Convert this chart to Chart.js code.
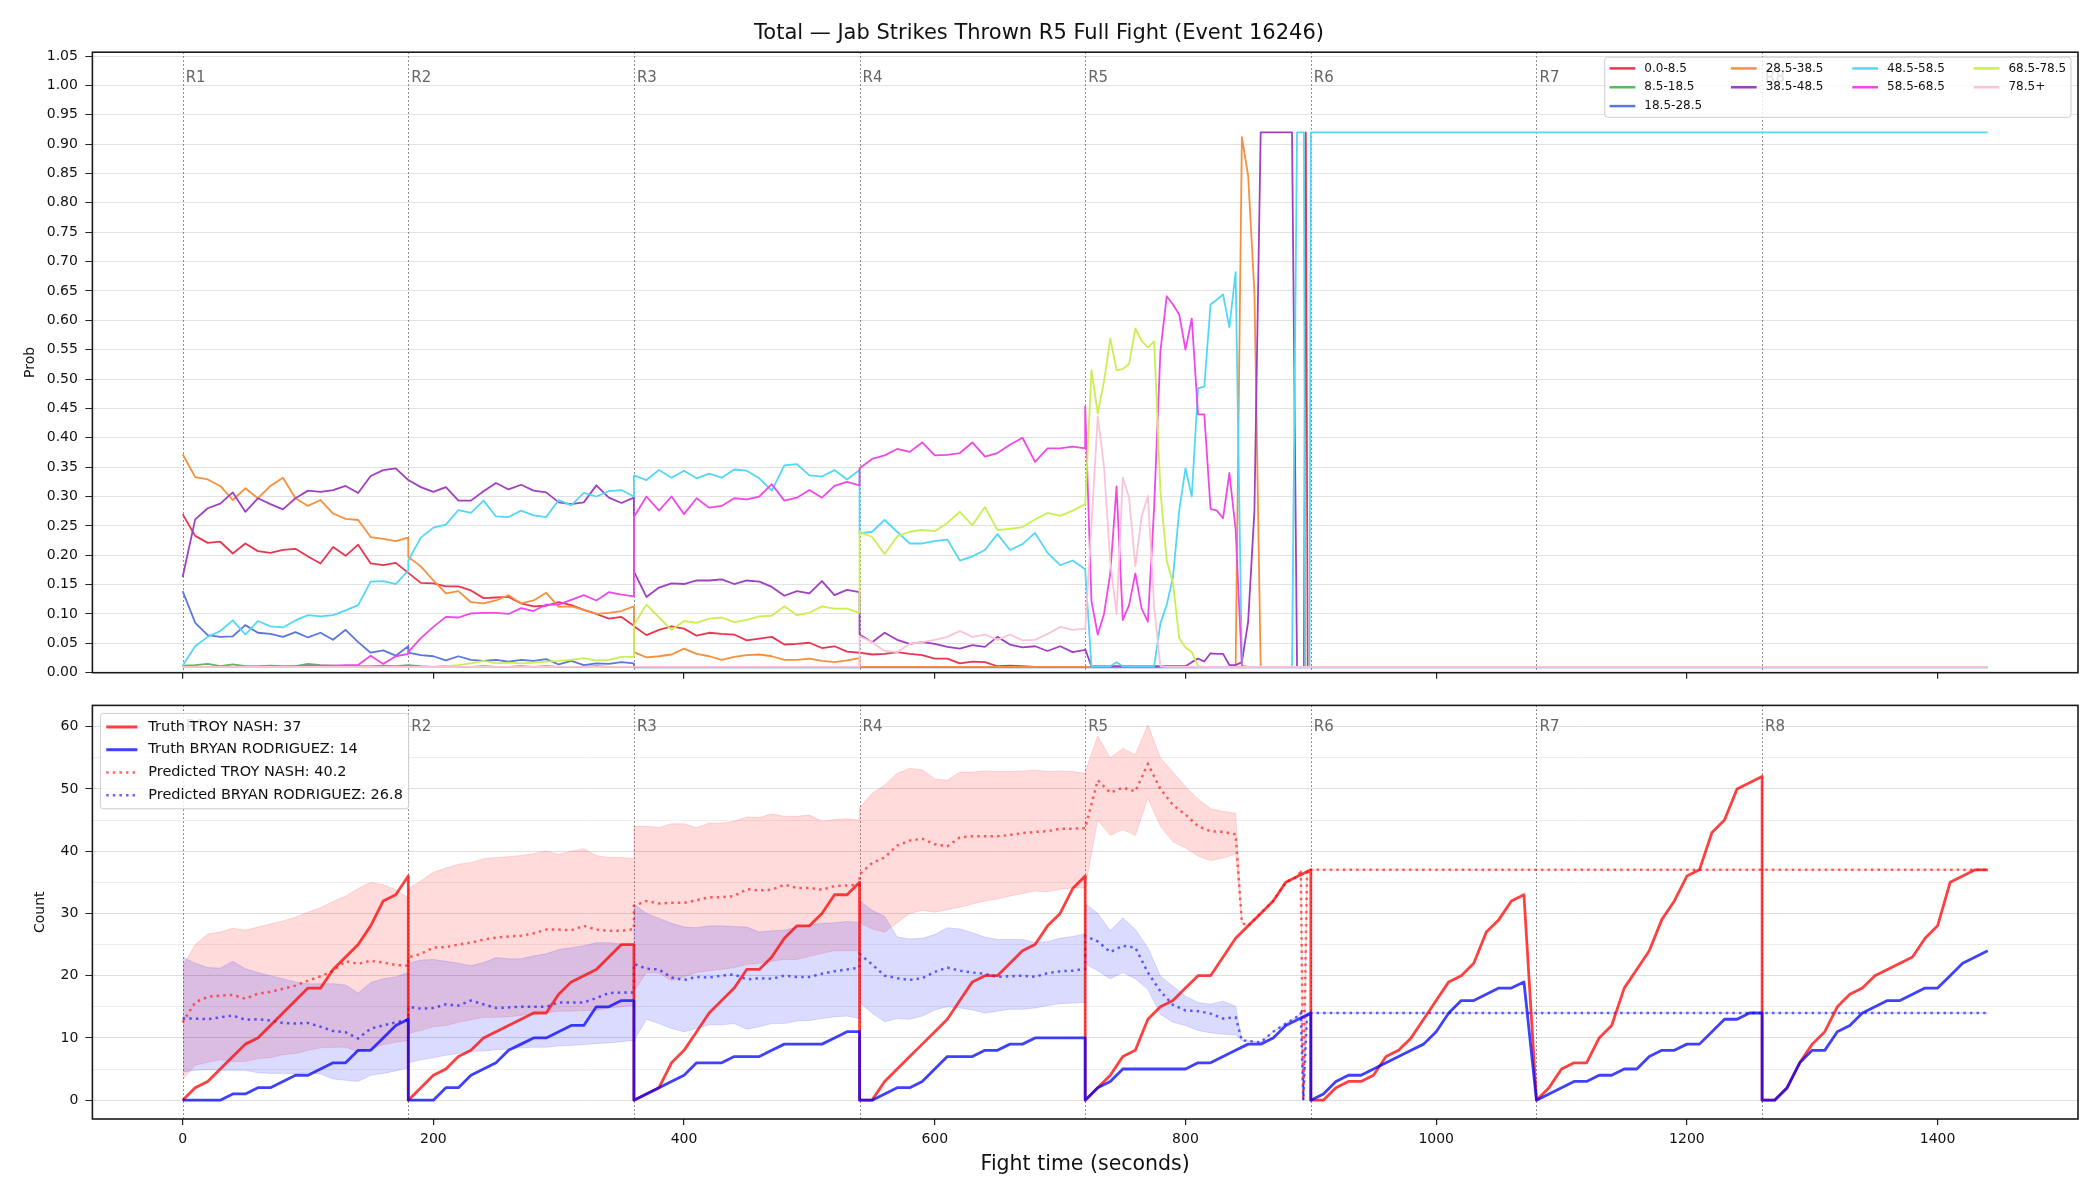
<!DOCTYPE html>
<html>
<head>
<meta charset="utf-8">
<title>Jab Strikes Thrown R5 Full Fight</title>
<script src="https://cdn.jsdelivr.net/npm/chart.js@4.4.1/dist/chart.umd.min.js"></script>
<style>
  html, body { margin: 0; padding: 0; background: #fff; }
  #wrap { position: relative; width: 2100px; height: 1200px; }
  #probChart { position: absolute; left: 0; top: 0; }
  #countChart { position: absolute; left: 0; top: 690px; }
</style>
</head>
<body>
<div id="wrap">
  <canvas id="probChart" width="2100" height="690"></canvas>
  <canvas id="countChart" width="2100" height="510"></canvas>
</div>
<script>
/* ---- data ---------------------------------------------------------- */
const TITLE = "Total \u2014 Jab Strikes Thrown R5 Full Fight (Event 16246)";
const ROUND_STARTS = [0, 180, 360, 540, 720, 900, 1080, 1260];
const ROUND_LABELS = ["R1", "R2", "R3", "R4", "R5", "R6", "R7", "R8"];
const STEP = 10;      // seconds between samples inside a round
const R5_STEP = 5;    // round 5 of the probability panel is sampled finer
const X_TICKS = [0, 200, 400, 600, 800, 1000, 1200, 1400];
const PROB_TICKS = [0, 0.05, 0.1, 0.15, 0.2, 0.25, 0.3, 0.35, 0.4, 0.45, 0.5, 0.55,
                    0.6, 0.65, 0.7, 0.75, 0.8, 0.85, 0.9, 0.95, 1.0, 1.05];
const COUNT_TICKS = [0, 5, 10, 15, 20, 25, 30, 35, 40, 45, 50, 55, 60];

const BUCKETS = ["0.0-8.5", "8.5-18.5", "18.5-28.5", "28.5-38.5", "38.5-48.5",
                 "48.5-58.5", "58.5-68.5", "68.5-78.5", "78.5+"];
const BUCKET_COLORS = ["#e8364f", "#5cba5c", "#5a77dc", "#f6903e", "#a040c0",
                       "#52d8f6", "#f048e8", "#c8f050", "#fac3d6"];

/* probability per bucket: rounds 1-4 every 10 s, round 5 every 5 s, then tail points */
const P0 = [
  [.270,.233,.221,.223,.203,.220,.207,.204,.209,.211,.198,.186,.214,.199,.218,.186,.183,.187,.170],
  [.170,.153,.152,.147,.147,.140,.127,.128,.129,.118,.113,.114,.120,.115,.107,.100,.092,.095,.080],
  [.079,.064,.073,.079,.075,.063,.068,.066,.065,.055,.058,.061,.048,.049,.051,.042,.045,.036,.034],
  [.034,.031,.032,.035,.032,.030,.024,.024,.016,.019,.018,.011,.012,.011,.010,.010,.010,.010,.010],
  [.010,.010,.010,.010,.010,.010,.010,.010,.010,.010,.010,.010,.010,.010,.010,.010,.010,.010,.010,.010,.010,.010,.010,.010,.010,.010,.010,.010,.010,.010,.010,.010,.010]
];
const P0_TAIL = [[885, .01], [894.5, .01], [896, .92], [897.5, .01], [1440, .01]];

const P1 = [
  [.012,.013,.015,.011,.014,.011,.011,.012,.011,.011,.015,.013,.012,.011,.011,.011,.012,.011,.013],
  [.013,.011,.010,.011,.010,.010,.011,.010,.010,.011,.010,.011,.010,.010,.010,.011,.010,.010,.010],
  [.010,.010,.010,.010,.010,.010,.010,.010,.010,.010,.010,.010,.010,.010,.010,.010,.010,.010,.010],
  [.010,.010,.010,.010,.010,.010,.010,.010,.010,.010,.010,.010,.010,.010,.010,.010,.010,.010,.010],
  [.010,.010,.010,.010,.010,.010,.010,.010,.010,.010,.010,.010,.010,.010,.010,.010,.010,.010,.010,.010,.010,.010,.010,.010,.010,.010,.010,.010,.010,.010,.010,.010,.010]
];
const P1_TAIL = [[885, .01], [1440, .01]];

const P2 = [
  [.139,.085,.064,.061,.062,.081,.068,.066,.061,.069,.060,.068,.056,.073,.052,.034,.038,.029,.045],
  [.034,.030,.028,.021,.028,.022,.020,.022,.019,.022,.020,.023,.014,.020,.013,.016,.015,.018,.016],
  [.009,.009,.009,.009,.009,.009,.009,.009,.009,.009,.009,.009,.009,.009,.009,.009,.009,.009,.009],
  [.009,.009,.009,.009,.009,.009,.009,.009,.009,.009,.009,.009,.009,.009,.009,.009,.009,.009,.009],
  [.009,.009,.009,.009,.009,.009,.009,.009,.009,.009,.009,.009,.009,.009,.009,.009,.009,.009,.009,.009,.009,.009,.009,.009,.009,.009,.009,.009,.009,.009,.009,.009,.009]
];
const P2_TAIL = [[885, .009], [1440, .009]];

const P3 = [
  [.372,.333,.329,.318,.294,.314,.297,.318,.332,.297,.284,.294,.271,.262,.260,.231,.228,.224,.230],
  [.197,.181,.157,.135,.139,.120,.118,.123,.132,.118,.123,.136,.112,.113,.107,.100,.102,.105,.113],
  [.035,.026,.028,.031,.041,.032,.028,.022,.027,.030,.031,.028,.022,.022,.024,.020,.018,.021,.025],
  [.010,.010,.010,.010,.010,.010,.010,.010,.010,.010,.010,.010,.010,.010,.010,.010,.010,.010,.010],
  [.010,.010,.010,.010,.010,.010,.010,.010,.010,.010,.010,.010,.010,.010,.010,.010,.010,.010,.010,.010,.010,.010,.010,.010,.010,.912,.846,.647,.010,.010,.010,.010,.010]
];
const P3_TAIL = [[885, .01], [1440, .01]];

const P4 = [
  [.163,.261,.280,.288,.307,.274,.297,.287,.278,.297,.310,.308,.311,.318,.306,.335,.345,.348,.328],
  [.328,.316,.308,.316,.293,.293,.309,.323,.312,.320,.310,.307,.290,.287,.290,.319,.298,.289,.298],
  [.172,.129,.145,.152,.151,.157,.157,.159,.151,.157,.155,.146,.131,.139,.135,.156,.132,.141,.137],
  [.065,.052,.068,.056,.049,.052,.049,.044,.041,.047,.044,.061,.048,.043,.045,.037,.045,.035,.039],
  [.040,.011,.011,.011,.011,.011,.011,.011,.011,.011,.011,.011,.011,.011,.011,.011,.011,.018,.024,.019,.033,.032,.032,.013,.013,.018,.087,.276,.920,.920,.920,.920,.920]
];
const P4_TAIL = [[885, .92], [889, .01], [1440, .01]];

const P5 = [
  [.012,.045,.061,.071,.089,.065,.088,.079,.077,.089,.098,.096,.098,.106,.115,.155,.156,.151,.174],
  [.191,.230,.247,.252,.277,.272,.293,.266,.265,.276,.268,.265,.294,.285,.306,.300,.309,.311,.300],
  [.336,.328,.345,.332,.344,.331,.339,.332,.346,.344,.331,.310,.353,.355,.336,.334,.345,.329,.345],
  [.237,.240,.260,.240,.220,.220,.224,.227,.191,.198,.209,.236,.209,.219,.238,.204,.183,.191,.176],
  [.176,.011,.011,.011,.011,.018,.011,.011,.011,.011,.011,.011,.084,.115,.162,.276,.348,.300,.484,.487,.627,.635,.644,.588,.682,.011,.010,.010,.010,.010,.010,.010,.010]
];
const P5_TAIL = [[885, .01], [889, .92], [894.5, .92], [895.5, .01], [899, .01], [900, .92], [1440, .92]];

const P6 = [
  [.010,.010,.010,.010,.010,.010,.010,.010,.010,.011,.012,.012,.012,.013,.013,.029,.015,.028,.032],
  [.035,.059,.078,.095,.094,.101,.102,.102,.100,.110,.105,.116,.116,.124,.132,.123,.137,.133,.130],
  [.265,.300,.276,.300,.270,.297,.281,.284,.297,.295,.300,.321,.293,.298,.311,.298,.318,.325,.319],
  [.348,.364,.370,.381,.376,.392,.370,.371,.374,.392,.368,.374,.388,.400,.359,.382,.382,.385,.382],
  [.453,.122,.065,.100,.169,.317,.090,.115,.169,.109,.087,.282,.547,.641,.627,.610,.550,.603,.440,.440,.279,.276,.263,.340,.244,.011,.010,.010,.010,.010,.010,.010,.010]
];
const P6_TAIL = [[885, .01], [1440, .01]];

const P7 = [
  [.010,.010,.010,.010,.010,.010,.010,.010,.010,.010,.010,.010,.010,.010,.010,.010,.010,.010,.010],
  [.010,.010,.010,.011,.013,.016,.020,.016,.017,.016,.017,.019,.020,.022,.025,.021,.022,.027,.027],
  [.081,.116,.094,.073,.088,.085,.092,.094,.086,.090,.096,.097,.113,.098,.102,.113,.109,.109,.102],
  [.240,.231,.202,.232,.240,.243,.241,.255,.274,.251,.282,.243,.245,.248,.261,.272,.267,.276,.287],
  [.287,.515,.441,.496,.569,.515,.517,.526,.586,.565,.554,.564,.310,.191,.153,.059,.043,.035,.011,.010,.010,.010,.010,.010,.010,.010,.010,.010,.010,.010,.010,.010,.010]
];
const P7_TAIL = [[885, .01], [1440, .01]];

const P8 = [
  [.010,.010,.010,.010,.010,.010,.010,.010,.010,.010,.010,.010,.010,.010,.010,.010,.010,.010,.010],
  [.010,.010,.010,.010,.010,.010,.010,.010,.010,.010,.010,.010,.010,.010,.010,.010,.010,.010,.010],
  [.010,.010,.010,.010,.010,.010,.010,.010,.010,.010,.010,.010,.010,.010,.010,.010,.010,.010,.010],
  [.062,.052,.037,.035,.049,.052,.056,.061,.071,.061,.065,.056,.065,.055,.056,.066,.078,.073,.075],
  [.075,.250,.436,.351,.188,.100,.332,.298,.181,.266,.301,.112,.011,.010,.010,.010,.010,.010,.010,.010,.010,.010,.010,.010,.010,.010,.010,.010,.010,.010,.010,.010,.010]
];
const P8_TAIL = [[885, .01], [1440, .01]];

/* truth counts, one array per round, every 10 s */
const TRUTH_NASH = [
  [0,2,3,5,7,9,10,12,14,16,18,18,21,23,25,28,32,33,36],
  [0,2,4,5,7,8,10,11,12,13,14,14,17,19,20,21,23,25,25],
  [0,1,2,6,8,11,14,16,18,21,21,23,26,28,28,30,33,33,35],
  [0,0,3,5,7,9,11,13,16,19,20,20,22,24,25,28,30,34,36],
  [0,2,4,7,8,13,15,16,18,20,20,23,26,28,30,32,35,36,37],
  [0,0,2,3,3,4,7,8,10,13,16,19,20,22,27,29,32,33,0],
  [0,2,5,6,6,10,12,18,21,24,29,32,36,37,43,45,50,51,52],
  [0,0,2,6,9,11,15,17,18,20,21,22,23,26,28,35,36,37,37]
];
const TRUTH_RODRIGUEZ = [
  [0,0,0,0,1,1,2,2,3,4,4,5,6,6,8,8,10,12,13],
  [0,0,0,2,2,4,5,6,8,9,10,10,11,12,12,15,15,16,16],
  [0,1,2,3,4,6,6,6,7,7,7,8,9,9,9,9,10,11,11],
  [0,0,1,2,2,3,5,7,7,7,8,8,9,9,10,10,10,10,10],
  [0,2,3,5,5,5,5,5,5,6,6,7,8,9,9,10,12,13,14],
  [0,1,3,4,4,5,6,7,8,9,11,14,16,16,17,18,18,19,0],
  [0,1,2,3,3,4,4,5,5,7,8,8,9,9,11,13,13,14,14],
  [0,0,2,6,8,8,11,12,14,15,16,16,17,18,18,20,22,23,24]
];

/* predicted totals and their bands: rounds 1-4 every 10 s, round 5 up to 840 s, then tail */
const PRED_NASH = [
  [12.5,15.7,16.6,16.8,16.9,16.3,17.1,17.4,17.9,18.4,19.2,19.9,20.8,22.3,21.9,22.4,22.1,21.7,21.6],
  [22.9,23.5,24.5,24.6,25.0,25.3,25.8,26.1,26.3,26.4,26.8,27.4,27.4,27.3,28.0,27.4,27.2,27.2,27.5],
  [31.2,32.0,31.6,31.7,31.7,32.1,32.6,32.6,32.8,33.9,33.7,33.8,34.6,34.1,34.1,33.8,34.4,34.5,34.6],
  [36.3,38.1,39.0,40.9,41.7,42.0,41.1,40.8,42.2,42.4,42.4,42.4,42.6,42.9,43.1,43.2,43.6,43.6,43.7],
  [43.7,51.4,49.4,50.2,49.6,54.0,50.0,47.4,45.9,44.0,43.2,43.1,42.7]
];
const PRED_NASH_TAIL = [[845, 28.5], [850, 28], [860, 30], [870, 32], [880, 35], [890, 36], [892, 37], [894, 0], [897, 37], [1440, 37]];
const BAND_NASH_HI = [
  [21.5,25.0,26.7,27.0,27.6,27.3,27.8,28.3,28.8,29.4,30.2,30.9,31.9,32.8,34.0,35.0,34.6,33.8,32.5],
  [34.0,35.2,36.6,37.3,37.9,38.2,38.8,39.0,39.1,39.3,39.6,40.0,39.5,40.0,40.4,39.3,39.0,39.0,38.8],
  [44.0,44.0,43.8,44.4,44.4,43.8,44.5,44.5,44.8,45.5,45.4,46.0,45.6,45.6,45.8,44.8,45.1,45.2,45.0],
  [47.0,49.3,50.6,52.5,53.3,53.1,51.6,51.4,52.7,52.7,52.9,52.8,52.8,52.9,53.0,52.8,52.9,52.8,52.5],
  [52.8,58.5,55.0,56.5,55.5,60.3,55.0,52.7,50.4,48.4,46.8,46.4,46.1]
];
const BAND_NASH_LO = [
  [3.3,5.6,6.1,6.5,6.2,6.2,6.7,6.8,7.3,7.5,8.0,8.4,8.5,8.5,7.8,8.2,8.9,9.3,9.6],
  [10.7,11.2,11.8,12.0,12.5,12.9,13.3,13.3,13.4,13.6,13.9,14.0,14.3,14.3,14.4,14.4,14.8,15.0,15.2],
  [17.5,20.5,20.4,19.2,19.8,20.5,20.8,21.0,21.3,21.8,22.0,22.3,22.6,22.6,23.1,23.6,24.0,24.0,24.0],
  [28.5,27.5,27.0,28.5,30.0,30.5,30.2,30.6,31.0,31.5,32.0,32.3,32.8,33.2,33.6,33.5,33.9,34.1,34.1],
  [34.1,45.0,42.5,43.5,42.5,48.5,44.0,41.5,40.5,39.2,38.5,38.9,39.5]
];

const PRED_RODRIGUEZ = [
  [13.1,13.1,13.0,13.3,13.6,12.9,13.0,12.8,12.4,12.3,12.4,11.8,11.1,10.9,9.9,11.5,12.0,12.5,12.9],
  [15.0,14.7,14.8,15.4,15.2,16.0,15.4,14.8,14.9,15.0,15.0,15.0,15.7,15.7,15.7,16.4,17.2,17.3,17.3],
  [21.9,21.1,21.0,19.7,19.3,19.8,19.7,20.0,20.2,19.4,19.6,19.5,20.0,19.8,19.8,20.3,20.7,21.0,21.3],
  [23.5,21.8,20.0,19.6,19.3,19.6,20.6,21.3,20.8,20.5,20.3,19.8,19.9,20.0,19.8,20.4,20.7,20.8,21.1],
  [26.4,25.5,23.8,24.8,24.5,20.5,17.5,15.3,14.4,14.3,13.9,13.1,13.3]
];
const PRED_RODRIGUEZ_TAIL = [[845, 9.6], [850, 9.5], [860, 9.3], [870, 11], [880, 12.3], [890, 13.5], [892, 14], [894, 0], [897, 14], [1440, 14]];
const BAND_RODRIGUEZ_HI = [
  [23.0,22.0,21.3,21.2,22.3,21.1,20.5,20.0,19.5,19.0,18.7,18.7,18.7,18.5,17.2,18.9,19.5,19.8,20.5],
  [22.0,22.5,22.6,22.3,22.0,21.6,22.1,22.9,22.7,22.7,23.2,23.5,24.2,24.5,24.8,25.3,25.3,25.1,25.1],
  [31.5,30.0,29.2,28.4,27.8,27.7,28.0,28.0,27.9,27.8,27.0,27.2,27.3,27.8,28.1,28.4,28.5,28.7,28.6],
  [32.0,30.5,29.5,26.2,25.9,26.0,26.6,27.7,27.5,26.9,26.2,25.8,25.8,25.8,25.3,25.5,26.0,26.3,26.7],
  [31.6,30.0,27.2,29.3,27.4,24.5,19.9,18.3,16.7,15.7,15.4,15.9,15.1]
];
const BAND_RODRIGUEZ_LO = [
  [4.5,4.8,4.9,4.8,4.8,4.8,4.4,4.3,4.3,4.3,4.4,4.2,3.4,3.2,3.0,4.0,4.3,4.7,5.2],
  [6.0,6.5,6.8,7.2,7.5,7.8,7.9,8.1,8.2,8.4,8.5,8.5,8.7,8.8,8.9,9.1,9.2,9.4,9.6],
  [9.5,13.0,12.3,11.5,11.0,11.5,12.1,12.1,12.3,11.4,11.8,12.3,12.3,12.7,12.8,13.1,13.4,13.5,13.1],
  [15.7,14.0,12.6,13.1,13.0,13.5,14.5,15.0,14.8,14.5,14.0,14.3,14.6,14.6,14.8,15.2,15.5,15.6,15.7],
  [21.9,20.8,19.5,20.5,19.5,17.8,13.8,12.5,12.0,11.2,10.8,10.6,10.5]
];

const COUNT_LEGEND = ["Truth TROY NASH: 37", "Truth BRYAN RODRIGUEZ: 14",
                      "Predicted TROY NASH: 40.2", "Predicted BRYAN RODRIGUEZ: 26.8"];

(function () {
  "use strict";

  var FONT = '"DejaVu Sans", sans-serif';
  Chart.defaults.font.family = FONT;
  Chart.defaults.color = "#111";

  var RED = "rgba(255,0,0,0.75)", BLUE = "rgba(0,0,255,0.75)";
  var RED_DOT = "rgba(255,0,0,0.6)", BLUE_DOT = "rgba(0,0,255,0.6)";
  var RED_FILL = "rgba(255,0,0,0.14)", BLUE_FILL = "rgba(0,0,255,0.14)";
  var DOTS = [2.5, 4.1];

  /* ---- helpers ----------------------------------------------------- */
  var toPoints = function (rounds, tail, r5step) {
    var pts = [];
    rounds.forEach(function (vals, r) {
      var step = (r === 4 && r5step) ? r5step : STEP;
      vals.forEach(function (v, i) { pts.push({ x: ROUND_STARTS[r] + i * step, y: v }); });
    });
    (tail || []).forEach(function (p) { pts.push({ x: p[0], y: p[1] }); });
    return pts;
  };
  var fixedTicks = function (list) {
    return function (scale) { scale.ticks = list.map(function (v) { return { value: v }; }); };
  };

  var drawLegend = function (chart, spec) {
    var ctx = chart.ctx, a = chart.chartArea, f = spec.fontSize;
    var n = spec.items.length, base = Math.floor(n / spec.ncol), extra = n % spec.ncol;
    var cols = [], k = 0, c;
    for (c = 0; c < spec.ncol; c++) {
      var cnt = base + (c < extra ? 1 : 0);
      cols.push(spec.items.slice(k, k + cnt));
      k += cnt;
    }
    var nrow = base + (extra ? 1 : 0);
    var pad = 0.4 * f, hl = 2.15 * f, tp = 0.75 * f, cs = 2.4 * f, pitch = 1.57 * f;
    ctx.save();
    ctx.font = f + "px " + FONT;
    var colW = cols.map(function (col) {
      return hl + tp + Math.max.apply(null, col.map(function (it) { return ctx.measureText(it.label).width; }));
    });
    var w = 2 * pad + colW.reduce(function (s, v) { return s + v; }, 0) + cs * (spec.ncol - 1);
    var h = nrow * pitch + 0.3 * f;
    var x0 = spec.corner === "ur" ? a.right - spec.gapX - w : a.left + spec.gapX;
    var y0 = a.top + spec.gapY;

    ctx.beginPath();
    if (ctx.roundRect) ctx.roundRect(x0, y0, w, h, 3); else ctx.rect(x0, y0, w, h);
    ctx.fillStyle = "rgba(255,255,255,0.8)";
    ctx.fill();
    ctx.lineWidth = 1;
    ctx.strokeStyle = "#cccccc";
    ctx.stroke();

    var cx = x0 + pad;
    cols.forEach(function (col, ci) {
      col.forEach(function (it, ri) {
        var y = y0 + 0.15 * f + pitch * (ri + 0.5);
        ctx.beginPath();
        ctx.setLineDash(it.dash || []);
        ctx.lineWidth = it.width;
        ctx.strokeStyle = it.color;
        ctx.moveTo(cx, y);
        ctx.lineTo(cx + hl, y);
        ctx.stroke();
        ctx.setLineDash([]);
        ctx.fillStyle = "#111";
        ctx.textAlign = "left";
        ctx.textBaseline = "middle";
        ctx.fillText(it.label, cx + hl + tp, y);
      });
      cx += colW[ci] + cs;
    });
    ctx.restore();
  };

  /* round markers, frame and in-axes legend */
  var deco = {
    id: "deco",
    beforeDatasetsDraw: function (chart) {
      var ctx = chart.ctx, a = chart.chartArea, xs = chart.scales.x;
      ctx.save();
      ctx.strokeStyle = "rgba(60,60,60,0.75)";
      ctx.lineWidth = 1;
      ctx.setLineDash([1.5, 2.5]);
      ROUND_STARTS.forEach(function (t) {
        var x = Math.round(xs.getPixelForValue(t)) + 0.5;
        ctx.beginPath();
        ctx.moveTo(x, a.top);
        ctx.lineTo(x, a.bottom);
        ctx.stroke();
      });
      ctx.restore();
    },
    afterDraw: function (chart, args, opts) {
      var ctx = chart.ctx, a = chart.chartArea, xs = chart.scales.x, ys = chart.scales.y;
      ctx.save();
      ctx.lineWidth = 1.6;
      ctx.strokeStyle = "#1a1a1a";
      ctx.strokeRect(a.left, a.top, a.right - a.left, a.bottom - a.top);
      ctx.font = "15px " + FONT;
      ctx.fillStyle = "#666";
      ctx.textAlign = "left";
      ctx.textBaseline = "middle";
      ROUND_STARTS.forEach(function (t, i) {
        ctx.fillText(ROUND_LABELS[i], xs.getPixelForValue(t) + 3, ys.getPixelForValue(opts.labelY));
      });
      ctx.restore();
      drawLegend(chart, opts.legend);
    }
  };

  var xAxis = function (height, withLabels) {
    return {
      type: "linear",
      min: -72,
      max: 1512,
      afterBuildTicks: fixedTicks(X_TICKS),
      afterFit: function (s) { s.height = height; },
      ticks: { display: withLabels, autoSkip: false, maxRotation: 0, padding: 5.5,
               color: "#111", font: { size: 14 },
               callback: function (v) { return String(v); } },
      grid: { display: true, drawOnChartArea: false, drawTicks: true, tickLength: 6,
              color: "#222", lineWidth: 1.2 },
      border: { display: false },
      title: withLabels
        ? { display: true, text: "Fight time (seconds)", color: "#111",
            font: { size: 20.5 }, padding: { top: 0, bottom: 23.4 } }
        : { display: false }
    };
  };

  /* ---- top panel: bucket probabilities ------------------------------ */
  var probData = [P0, P1, P2, P3, P4, P5, P6, P7, P8];
  var probTails = [P0_TAIL, P1_TAIL, P2_TAIL, P3_TAIL, P4_TAIL, P5_TAIL, P6_TAIL, P7_TAIL, P8_TAIL];

  new Chart(document.getElementById("probChart"), {
    type: "line",
    data: {
      datasets: BUCKETS.map(function (name, i) {
        return {
          label: name,
          data: toPoints(probData[i], probTails[i], R5_STEP),
          borderColor: BUCKET_COLORS[i],
          borderWidth: 1.8,
          borderJoinStyle: "round",
          pointRadius: 0,
          tension: 0,
          fill: false,
          order: 20 - i
        };
      })
    },
    options: {
      responsive: false,
      animation: false,
      devicePixelRatio: 1,
      layout: { padding: { left: 0, right: 22, top: 0, bottom: 0 } },
      plugins: {
        legend: { display: false },
        tooltip: { enabled: false },
        title: { display: true, text: TITLE, color: "#111",
                 font: { size: 21, weight: "normal" }, padding: { top: 21, bottom: 6 } },
        deco: {
          labelY: 1.012,
          legend: {
            fontSize: 12, ncol: 4, corner: "ur", gapX: 7, gapY: 5,
            items: BUCKETS.map(function (name, i) { return { label: name, color: BUCKET_COLORS[i], width: 2.5 }; })
          }
        }
      },
      scales: {
        x: xAxis(17.3, false),
        y: {
          type: "linear",
          min: 0,
          max: 1.0565,
          afterBuildTicks: fixedTicks(PROB_TICKS),
          afterFit: function (s) { s.width = 92.4; },
          ticks: { autoSkip: false, padding: 7.5, color: "#111", font: { size: 14 },
                   callback: function (v) { return v.toFixed(2); } },
          grid: { color: "#e2e2e2", lineWidth: 1, tickColor: "#222", tickLength: 7 },
          border: { display: false },
          title: { display: true, text: "Prob", color: "#111", font: { size: 14 },
                   padding: { top: 21.5, bottom: 0 } }
        }
      }
    },
    plugins: [deco]
  });

  /* ---- bottom panel: counts ---------------------------------------- */
  new Chart(document.getElementById("countChart"), {
    type: "line",
    data: {
      datasets: [
        { data: toPoints(BAND_NASH_HI, PRED_NASH_TAIL), fill: "+1", backgroundColor: RED_FILL,
          borderColor: "rgba(255,0,0,0.13)", borderWidth: 1, pointRadius: 0, tension: 0, order: 10 },
        { data: toPoints(BAND_NASH_LO, PRED_NASH_TAIL), fill: false,
          borderColor: "rgba(255,0,0,0.13)", borderWidth: 1, pointRadius: 0, tension: 0, order: 10 },
        { data: toPoints(BAND_RODRIGUEZ_HI, PRED_RODRIGUEZ_TAIL), fill: "+1", backgroundColor: BLUE_FILL,
          borderColor: "rgba(0,0,255,0.13)", borderWidth: 1, pointRadius: 0, tension: 0, order: 9 },
        { data: toPoints(BAND_RODRIGUEZ_LO, PRED_RODRIGUEZ_TAIL), fill: false,
          borderColor: "rgba(0,0,255,0.13)", borderWidth: 1, pointRadius: 0, tension: 0, order: 9 },
        { label: COUNT_LEGEND[2], data: toPoints(PRED_NASH, PRED_NASH_TAIL), borderColor: RED_DOT,
          borderDash: DOTS, borderCapStyle: "butt", borderWidth: 2.5, pointRadius: 0, tension: 0, fill: false, order: 6 },
        { label: COUNT_LEGEND[3], data: toPoints(PRED_RODRIGUEZ, PRED_RODRIGUEZ_TAIL), borderColor: BLUE_DOT,
          borderDash: DOTS, borderCapStyle: "butt", borderWidth: 2.5, pointRadius: 0, tension: 0, fill: false, order: 5 },
        { label: COUNT_LEGEND[0], data: toPoints(TRUTH_NASH), borderColor: RED, borderWidth: 2.8,
          borderJoinStyle: "round", pointRadius: 0, tension: 0, fill: false, order: 2 },
        { label: COUNT_LEGEND[1], data: toPoints(TRUTH_RODRIGUEZ), borderColor: BLUE, borderWidth: 2.8,
          borderJoinStyle: "round", pointRadius: 0, tension: 0, fill: false, order: 1 }
      ]
    },
    options: {
      responsive: false,
      animation: false,
      devicePixelRatio: 1,
      layout: { padding: { left: 0, right: 22, top: 13.5, bottom: 0 } },
      plugins: {
        legend: { display: false },
        tooltip: { enabled: false },
        deco: {
          labelY: 60,
          legend: {
            fontSize: 14.5, ncol: 1, corner: "ul", gapX: 8, gapY: 8,
            items: [
              { label: COUNT_LEGEND[0], color: RED, width: 3 },
              { label: COUNT_LEGEND[1], color: BLUE, width: 3 },
              { label: COUNT_LEGEND[2], color: RED_DOT, width: 2.5, dash: DOTS },
              { label: COUNT_LEGEND[3], color: BLUE_DOT, width: 2.5, dash: DOTS }
            ]
          }
        }
      },
      scales: {
        x: xAxis(81, true),
        y: {
          type: "linear",
          min: -3.03,
          max: 63.42,
          afterBuildTicks: fixedTicks(COUNT_TICKS),
          afterFit: function (s) { s.width = 92.4; },
          ticks: { autoSkip: false, padding: 7, color: "#111", font: { size: 14 },
                   callback: function (v) { return v % 10 === 0 ? String(v) : ""; } },
          grid: {
            lineWidth: 1,
            tickLength: 7,
            color: function (c) { return c.tick && c.tick.value % 10 === 0 ? "#dedede" : "#eeeeee"; },
            tickColor: function (c) { return c.tick && c.tick.value % 10 === 0 ? "#222" : "rgba(0,0,0,0)"; }
          },
          border: { display: false },
          title: { display: true, text: "Count", color: "#111", font: { size: 14 },
                   padding: { top: 31.6, bottom: 0 } }
        }
      }
    },
    plugins: [deco]
  });
})();
</script>
</body>
</html>
